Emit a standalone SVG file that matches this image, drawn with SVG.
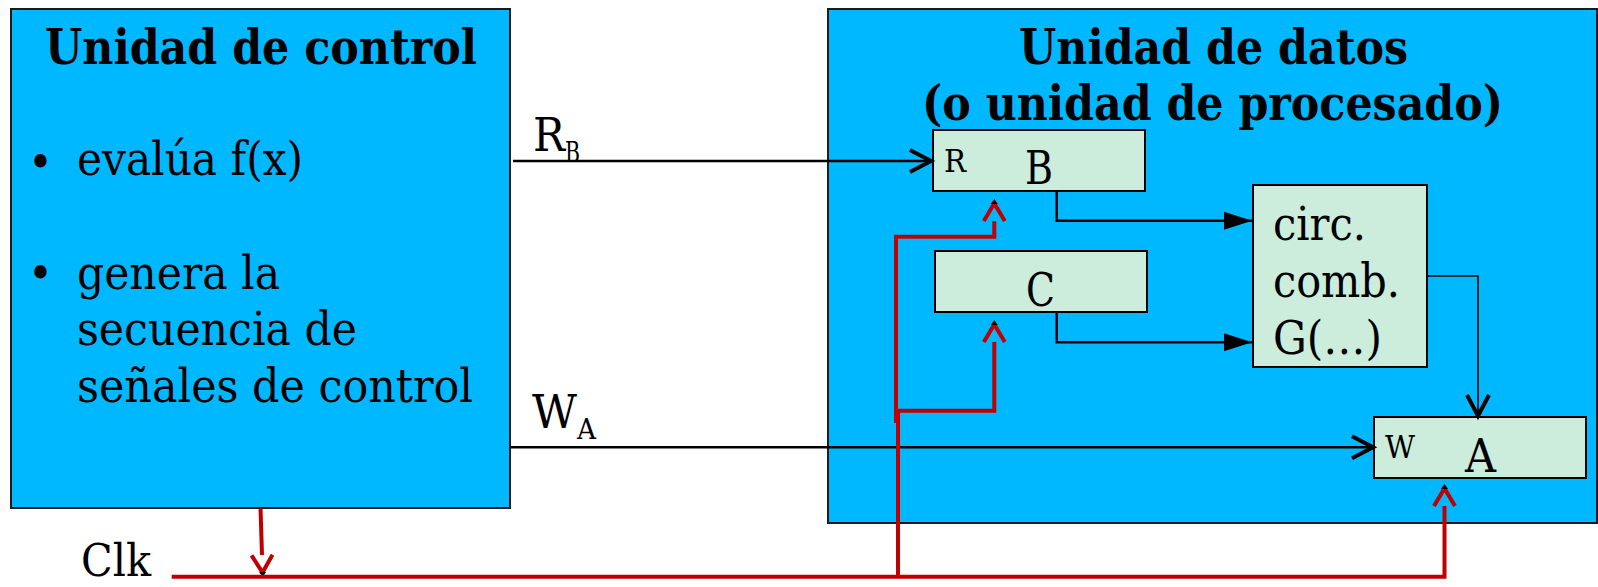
<svg xmlns="http://www.w3.org/2000/svg" width="1598" height="587" viewBox="0 0 1598 587">
<style>
.unit{fill:#00b8ff;stroke:#1a1a1a;stroke-width:2}
.reg{fill:#ccecdc;stroke:#000;stroke-width:2}
.t{font-family:"DejaVu Serif Condensed","DejaVu Serif","Liberation Serif",serif;fill:#000}
.b{font-weight:bold;font-size:48px}
.n{font-size:47px}
.s{font-size:31px}
.sub{font-size:27px}
.w{fill:none;stroke:#000;stroke-width:2.4}
.clk{fill:none;stroke:#c00000;stroke-width:4}
</style>
<defs>
<marker id="open" markerUnits="userSpaceOnUse" markerWidth="30" markerHeight="30" refX="21" refY="11" orient="auto" overflow="visible">
<path d="M0,0 L21,11 L0,22" fill="none" stroke="#000" stroke-width="4"/>
</marker>
<marker id="fill" markerUnits="userSpaceOnUse" markerWidth="30" markerHeight="30" refX="28" refY="9" orient="auto" overflow="visible">
<path d="M0,0 L28,9 L0,18 z" fill="#000"/>
</marker>
<marker id="red" markerUnits="userSpaceOnUse" markerWidth="30" markerHeight="30" refX="0" refY="10.5" orient="auto" overflow="visible">
<path d="M0,0 L17.5,10.5 L0,21" fill="none" stroke="#c00000" stroke-width="4"/>
<path d="M17,7 L22,10.5 L17,14 z" fill="#000"/>
</marker>
</defs>

<g id="control-unit">
<rect class="unit" x="11" y="9" width="499" height="499"/>
<text class="t b" x="45" y="64" textLength="432" lengthAdjust="spacingAndGlyphs">Unidad de control</text>
<text class="t n" x="28" y="178">•</text>
<text class="t n" x="77" y="175" textLength="226" lengthAdjust="spacingAndGlyphs">evalúa f(x)</text>
<text class="t n" x="28" y="289">•</text>
<text class="t n" x="77" y="289" textLength="203" lengthAdjust="spacingAndGlyphs">genera la</text>
<text class="t n" x="77" y="345" textLength="280" lengthAdjust="spacingAndGlyphs">secuencia de</text>
<text class="t n" x="77" y="402" textLength="396" lengthAdjust="spacingAndGlyphs">señales de control</text>
</g>

<g id="data-unit">
<rect class="unit" x="828" y="9" width="769" height="514"/>
<text class="t b" x="1019" y="64" textLength="389" lengthAdjust="spacingAndGlyphs">Unidad de datos</text>
<text class="t b" x="922" y="120" textLength="581" lengthAdjust="spacingAndGlyphs">(o unidad de procesado)</text>
</g>

<g id="reg-B">
<rect class="reg" x="933" y="130" width="212" height="61"/>
<text class="t s" x="944" y="172" textLength="22" lengthAdjust="spacingAndGlyphs">R</text>
<text class="t n" x="1025" y="184" textLength="28" lengthAdjust="spacingAndGlyphs">B</text>
</g>

<g id="reg-C">
<rect class="reg" x="935" y="251" width="212" height="61"/>
<text class="t n" x="1026" y="306" textLength="29" lengthAdjust="spacingAndGlyphs">C</text>
</g>

<g id="comb-circuit">
<rect class="reg" x="1253" y="185" width="174" height="182"/>
<text class="t n" x="1273" y="240" textLength="93" lengthAdjust="spacingAndGlyphs">circ.</text>
<text class="t n" x="1273" y="297" textLength="127" lengthAdjust="spacingAndGlyphs">comb.</text>
<text class="t n" x="1273" y="354" textLength="109" lengthAdjust="spacingAndGlyphs">G(…)</text>
</g>

<g id="reg-A">
<rect class="reg" x="1374" y="417" width="212" height="61"/>
<text class="t s" x="1385" y="458" textLength="30" lengthAdjust="spacingAndGlyphs">W</text>
<text class="t n" x="1465" y="472" textLength="31" lengthAdjust="spacingAndGlyphs">A</text>
</g>

<g id="labels">
<text class="t n" x="533" y="151" textLength="32" lengthAdjust="spacingAndGlyphs">R</text>
<text class="t sub" x="565" y="162" textLength="15" lengthAdjust="spacingAndGlyphs">B</text>
<text class="t n" x="532" y="428" textLength="45" lengthAdjust="spacingAndGlyphs">W</text>
<text class="t sub" x="577" y="439" textLength="19" lengthAdjust="spacingAndGlyphs">A</text>
<text class="t" style="font-size:45px" x="81" y="576" textLength="70" lengthAdjust="spacingAndGlyphs">Clk</text>
</g>

<g id="connectors">
<path class="w" d="M513,161 H931" marker-end="url(#open)"/>
<path class="w" d="M510,447.3 H1373" marker-end="url(#open)"/>
<path class="w" d="M1056.7,191 V220.7 H1252" marker-end="url(#fill)"/>
<path class="w" d="M1056.7,312 V342.3 H1252" marker-end="url(#fill)"/>
<path d="M1427,276 H1478 V416" fill="none" stroke="#000" stroke-width="1.6" marker-end="url(#open)"/>
<path class="clk" d="M260.5,508 L262,555" marker-end="url(#red)"/>
<path class="clk" d="M171.7,576.7 H1444.5 V506" marker-end="url(#red)"/>
<path class="clk" d="M896,423 V236.7 H994.3 V221" marker-end="url(#red)"/>
<path class="clk" d="M898,576.7 V410.7 H994.3 V342" marker-end="url(#red)"/>
</g>
</svg>
